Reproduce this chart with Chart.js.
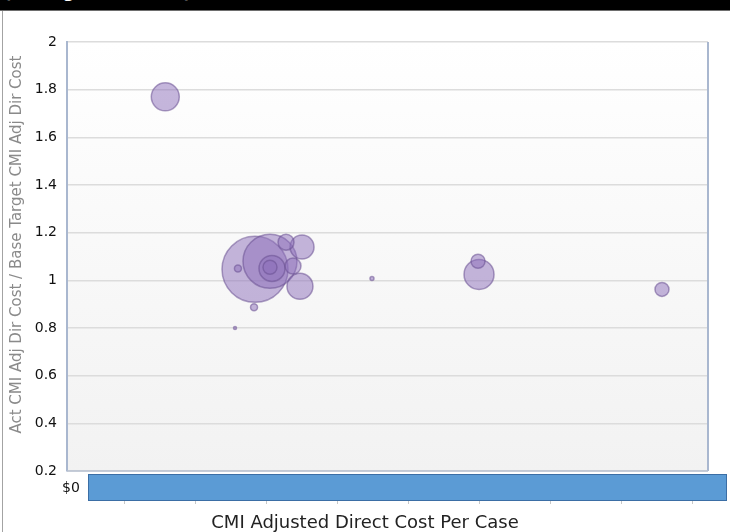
<!DOCTYPE html>
<html>
<head>
<meta charset="utf-8">
<script src="https://cdn.jsdelivr.net/npm/chart.js@4.4.1/dist/chart.umd.min.js"></script>
<style>
  html, body { margin: 0; padding: 0; background: #fff; }
  #wrap { position: relative; width: 730px; height: 532px; overflow: hidden; }
  #head { position: absolute; left: 0; top: 0; width: 730px; height: 10px; background: #000;
          border-bottom: 1px solid #6e6e6e; overflow: hidden; z-index: 2; }
  #head span { position: absolute; left: 4px; top: -17px; color: #fff; white-space: nowrap;
               font: bold 16px "DejaVu Sans", sans-serif; }
  #frame { position: absolute; left: 2px; top: 11px; width: 1px; height: 521px; background: #a3a3a3; z-index: 2; }
  canvas { position: absolute; left: 0; top: 0; }
</style>
</head>
<body>
<div id="wrap">
  <div id="head"><span>(Average Cost Ratio)</span></div>
  <div id="frame"></div>
  <canvas id="bubbleChart" width="730" height="532"></canvas>
</div>
<script>
/* values */
const costPerCase = [1380, 2640, 2850, 2878, 2850, 3300, 3075, 3271, 3173, 2400, 2626, 2359, 4282, 5785, 5771, 8354];
const costRatio   = [1.77, 1.046, 1.08, 1.05, 1.055, 1.14, 1.16, 0.975, 1.06, 1.05, 0.887, 0.80, 1.008, 1.025, 1.08, 0.962];
const bubbleSize  = [14, 33, 27, 13, 7, 12, 8, 13, 8, 3.5, 3.5, 1.5, 2, 15, 7, 7];
const xTickLabels = ["$0"];
const yTitle = "Act CMI Adj Dir Cost / Base Target CMI Adj Dir Cost";
const xTitle = "CMI Adjusted Direct Cost Per Case";

const points = costPerCase.map((x, i) => ({ x: x, y: costRatio[i], r: bubbleSize[i] }));

/* plot background, right/bottom edges and the blue range bar */
const plotDecor = {
  id: "plotDecor",
  beforeDraw(chart) {
    const { ctx, chartArea: a } = chart;
    const g = ctx.createLinearGradient(0, a.top, 0, a.bottom);
    g.addColorStop(0, "#ffffff");
    g.addColorStop(1, "#f2f2f2");
    ctx.save();
    ctx.fillStyle = g;
    ctx.fillRect(a.left, a.top, a.right - a.left, a.bottom - a.top);
    ctx.restore();
  },
  afterDraw(chart) {
    const { ctx, chartArea: a } = chart;
    ctx.save();
    ctx.strokeStyle = "#a9b7cf";
    ctx.lineWidth = 2;
    ctx.beginPath();
    ctx.moveTo(a.right, a.top);
    ctx.lineTo(a.right, a.bottom);
    ctx.stroke();
    ctx.strokeStyle = "#b8c2d2";
    ctx.lineWidth = 1.5;
    ctx.beginPath();
    ctx.moveTo(a.left, a.bottom);
    ctx.lineTo(a.right, a.bottom);
    ctx.stroke();

    const bx = a.left + 21, by = a.bottom + 3, bw = chart.width - 3 - bx, bh = 27;
    ctx.fillStyle = "#5b9bd5";
    ctx.fillRect(bx, by, bw, bh);
    ctx.strokeStyle = "#3b6ea5";
    ctx.lineWidth = 1;
    ctx.strokeRect(bx + 0.5, by + 0.5, bw - 1, bh - 1);
    ctx.strokeStyle = "#c8c8c8";
    for (let k = 0; k < 9; k++) {
      const tx = Math.round(bx + bw / 9 * (k + 0.5)) + 0.5;
      ctx.beginPath();
      ctx.moveTo(tx, by + bh);
      ctx.lineTo(tx, by + bh + 3);
      ctx.stroke();
    }
    ctx.restore();
  }
};

new Chart(document.getElementById("bubbleChart"), {
  type: "bubble",
  data: {
    datasets: [{
      label: "Cases",
      data: points,
      backgroundColor: "rgba(140,110,185,0.5)",
      borderColor: "rgba(105,80,145,0.55)",
      borderWidth: 1.5
    }]
  },
  options: {
    responsive: false,
    animation: false,
    layout: { autoPadding: false, padding: { left: 0, right: 0, top: 42, bottom: 0 } },
    plugins: {
      legend: { display: false },
      tooltip: { enabled: false },
      title: {
        display: true,
        text: xTitle,
        position: "bottom",
        align: "center",
        color: "#222",
        font: { family: "DejaVu Sans", size: 18, weight: "normal", lineHeight: 1 },
        padding: { top: 0, bottom: 0 }
      }
    },
    scales: {
      x: {
        type: "linear",
        min: 0,
        max: 9000,
        afterFit: (axis) => {
          axis.height = 43;
          axis.paddingLeft = 0;
          axis.paddingRight = 22;
        },
        grid: { display: false, drawTicks: false },
        border: { display: false },
        ticks: {
          stepSize: 1000,
          autoSkip: false,
          maxRotation: 0,
          padding: 9,
          labelOffset: 4,
          color: "#111",
          font: { family: "DejaVu Sans", size: 14 },
          callback: (v) => (v === 0 ? xTickLabels[0] : "")
        }
      },
      y: {
        min: 0.2,
        max: 2,
        afterFit: (axis) => { axis.width = 67; },
        grid: { color: "#dcdcdc", lineWidth: 1.5, drawTicks: false },
        border: { color: "#a9b7cf", width: 2 },
        ticks: {
          stepSize: 0.2,
          padding: 10,
          color: "#111",
          font: { family: "DejaVu Sans", size: 14 },
          callback: (v) => String(+v.toFixed(1))
        },
        title: {
          display: true,
          text: "     " + yTitle,
          color: "#8a8a8a",
          font: { family: "DejaVu Sans", size: 15 },
          padding: { top: 8, bottom: 0 }
        }
      }
    }
  },
  plugins: [plotDecor]
});
</script>
</body>
</html>
